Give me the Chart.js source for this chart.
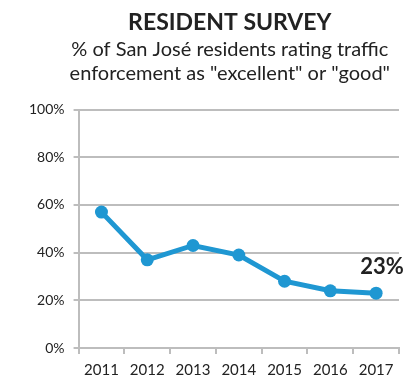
<!DOCTYPE html>
<html>
<head>
<meta charset="utf-8">
<script src="https://cdn.jsdelivr.net/npm/chart.js@4/dist/chart.umd.min.js"></script>
<style>
  html, body { margin: 0; padding: 0; background: #fff; }
  #wrap { width: 406px; height: 378px; }
</style>
</head>
<body>
<div id="wrap"><canvas id="myChart" width="406" height="378"></canvas></div>
<script>
const years = ['2011', '2012', '2013', '2014', '2015', '2016', '2017'];
const ratingPct = [57, 37, 43, 39, 28, 24, 23];
const yTicks = [0, 20, 40, 60, 80, 100];
const lastLabel = '23%';

const FONT = 'Lato, "Open Sans", sans-serif';
const LINE_COLOR = '#1f97d2';

// draws the bold value label above the last point
const lastValueLabel = {
  id: 'lastValueLabel',
  afterDatasetsDraw(chart) {
    const meta = chart.getDatasetMeta(0);
    const pt = meta.data[meta.data.length - 1];
    const ctx = chart.ctx;
    ctx.save();
    ctx.font = 'bold 22px ' + FONT;
    ctx.fillStyle = '#222';
    ctx.textAlign = 'center';
    ctx.textBaseline = 'middle';
    ctx.fillText(lastLabel, pt.x + 6, pt.y - 26);
    ctx.restore();
  }
};

// nudge the title and subtitle a little left of the plot centre
const titleShift = {
  id: 'titleShift',
  afterLayout(chart) {
    chart.boxes.forEach(b => {
      if (b.options && b.options.text !== undefined && b.position === 'top') {
        b.left -= 9;
        b.right -= 9;
      }
    });
  }
};

new Chart(document.getElementById('myChart').getContext('2d'), {
  type: 'line',
  data: {
    labels: years,
    datasets: [{
      data: ratingPct,
      borderColor: LINE_COLOR,
      backgroundColor: LINE_COLOR,
      borderWidth: 5,
      pointRadius: 6.5,
      pointBackgroundColor: LINE_COLOR,
      pointBorderWidth: 0,
      tension: 0,
      fill: false
    }]
  },
  options: {
    responsive: false,
    animation: false,
    layout: { padding: { left: 20, right: 7, top: 9, bottom: -8 } },
    plugins: {
      legend: { display: false },
      tooltip: { enabled: false },
      title: {
        display: true,
        text: 'RESIDENT SURVEY',
        color: '#222',
        font: { family: FONT, size: 23, weight: 'bold' },
        fullSize: false,
        padding: { top: 0, bottom: 1 }
      },
      subtitle: {
        display: true,
        text: ['% of San José residents rating traffic', 'enforcement as "excellent" or "good"'],
        color: '#222',
        font: { family: FONT, size: 20, lineHeight: 1.2 },
        fullSize: false,
        padding: { top: 0, bottom: 24 }
      }
    },
    scales: {
      x: {
        offset: true,
        grid: {
          offset: true,
          drawOnChartArea: false,
          drawTicks: true,
          tickLength: 6,
          color: '#bdbdbd',
          lineWidth: 2
        },
        border: { color: '#bdbdbd', width: 2 },
        ticks: {
          color: '#222',
          font: { family: FONT, size: 15 },
          padding: 7,
          maxRotation: 0
        }
      },
      y: {
        min: 0,
        max: 100,
        afterBuildTicks(scale) {
          scale.ticks = yTicks.map(v => ({ value: v }));
        },
        grid: {
          color: '#bdbdbd',
          lineWidth: 2,
          tickLength: 5
        },
        border: { color: '#bdbdbd', width: 2 },
        ticks: {
          color: '#222',
          font: { family: FONT, size: 14 },
          padding: 9,
          callback: v => v + '%'
        }
      }
    }
  },
  plugins: [lastValueLabel, titleShift]
});
</script>
</body>
</html>
